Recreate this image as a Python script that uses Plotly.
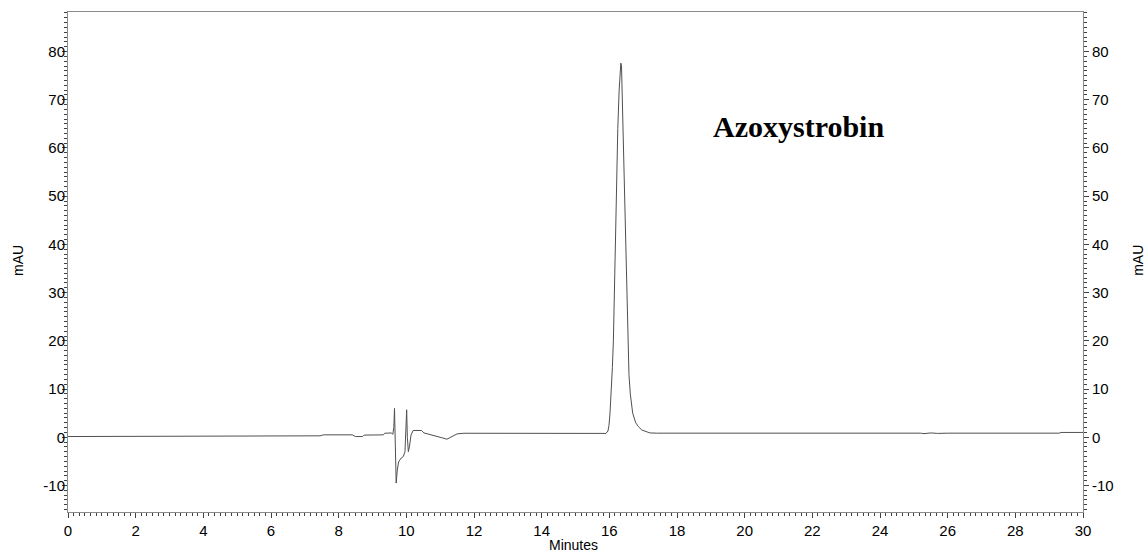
import plotly.graph_objects as go

# Retention time (min) and detector response (mAU) of the chromatogram trace
time_min = [
    0.00, 2.62, 2.70, 2.80, 7.45, 7.55, 7.90, 8.00, 8.10, 8.40, 8.50, 8.71,
    8.75, 9.32, 9.36, 9.56, 9.60, 9.63, 9.65, 9.67, 9.70, 9.73, 9.77, 9.85,
    9.91, 9.96, 9.98, 10.01, 10.03, 10.06, 10.09, 10.11, 10.14, 10.20, 10.45,
    10.52, 10.70, 10.90, 11.05, 11.20, 11.35, 11.50, 11.70, 12.00, 12.10,
    15.90, 15.96, 15.99, 16.02, 16.06, 16.09, 16.12, 16.15, 16.18, 16.21,
    16.25, 16.29, 16.32, 16.34, 16.36, 16.38, 16.41, 16.44, 16.47, 16.50,
    16.54, 16.58, 16.62, 16.69, 16.78, 16.86, 16.96, 17.06, 17.20, 17.40,
    18.55, 18.60, 18.70, 25.20, 25.30, 25.50, 25.70, 26.00, 29.30, 29.35,
    30.00,
]
signal_mau = [
    0.15, 0.15, 0.30, 0.25, 0.30, 0.50, 0.50, 0.45, 0.55, 0.50, 0.15, 0.15,
    0.45, 0.50, 0.83, 0.90, 0.60, 2.00, 6.00, 0.00, -9.50, -7.00, -5.10, -4.30,
    -4.00, -3.00, 2.00, 5.70, 0.00, -3.00, -2.00, -0.90, 0.50, 1.40, 1.40,
    0.90, 0.60, 0.30, -0.10, -0.40, 0.20, 0.70, 0.83, 0.83, 0.70,
    0.80, 1.30, 2.50, 5.00, 9.80, 14.50, 20.00, 30.00, 42.00, 54.00,
    64.00, 72.00, 76.50, 77.60, 77.00, 71.00, 62.00, 53.00, 43.00, 33.00,
    21.00, 13.00, 9.00, 5.00, 3.00, 2.20, 1.50, 1.20, 0.90, 0.85,
    0.85, 0.95, 0.85, 0.85, 0.75, 0.90, 0.80, 0.85, 0.85, 1.00,
    1.00,
]

x_range = [0, 30]
y_range = [-15.5, 88.2]
y_tick_values = [-10, 0, 10, 20, 30, 40, 50, 60, 70, 80]
y_tick_labels = ["-10", "0", "10", "20", "30", "40", "50", "60", "70", "80"]
peak_label = "Azoxystrobin"

axis_font = dict(family="Liberation Sans, Arial, sans-serif", size=15, color="#000000")
title_font = dict(family="Liberation Sans, Arial, sans-serif", size=14, color="#000000")
line_grey = "#8a8a8a"
tick_dark = "#404040"

fig = go.Figure()
fig.add_trace(go.Scatter(
    x=time_min, y=signal_mau, mode="lines",
    line=dict(color="#505050", width=1),
    hoverinfo="skip", showlegend=False,
))
# Same data bound to the right-hand axis so that axis gets drawn
fig.add_trace(go.Scatter(
    x=time_min, y=signal_mau, mode="lines", yaxis="y2",
    line=dict(color="#505050", width=1), opacity=0,
    hoverinfo="skip", showlegend=False,
))

minor_y = dict(dtick=1, tick0=0, ticks="outside", ticklen=3,
               tickcolor=tick_dark, tickwidth=1, showgrid=False)

fig.update_layout(
    width=1148, height=552,
    margin=dict(l=68, r=65, t=12, b=40),
    paper_bgcolor="white", plot_bgcolor="white",
    showlegend=False,
    xaxis=dict(
        range=x_range, dtick=2, tick0=0,
        showgrid=False, zeroline=False,
        showline=True, linecolor=line_grey, linewidth=1, mirror=True,
        ticks="outside", ticklen=5, tickcolor=tick_dark, tickwidth=1,
        minor=dict(dtick=1 / 6, tick0=0, ticks="outside", ticklen=3,
                   tickcolor=tick_dark, tickwidth=1, showgrid=False),
        tickfont=axis_font,
    ),
    yaxis=dict(
        range=y_range, tickmode="array",
        tickvals=y_tick_values, ticktext=y_tick_labels,
        showgrid=False, zeroline=False,
        showline=True, linecolor=line_grey, linewidth=1, mirror=True,
        ticks="outside", ticklen=5, tickcolor=tick_dark, tickwidth=1,
        minor=minor_y,
        tickfont=axis_font,
        ticklabelstandoff=-6,
    ),
    yaxis2=dict(
        range=y_range, tickmode="array",
        tickvals=y_tick_values, ticktext=y_tick_labels,
        overlaying="y", side="right",
        showgrid=False, zeroline=False,
        showline=True, linecolor=line_grey, linewidth=1,
        ticks="outside", ticklen=5, tickcolor=tick_dark, tickwidth=1,
        minor=minor_y,
        tickfont=axis_font,
    ),
)

# Axis titles and the compound label
fig.add_annotation(text="mAU", xref="paper", yref="paper", x=-0.0493, y=0.504,
                   textangle=-90, showarrow=False, font=title_font,
                   xanchor="center", yanchor="middle")
fig.add_annotation(text="mAU", xref="paper", yref="paper", x=1.054, y=0.504,
                   textangle=-90, showarrow=False, font=title_font,
                   xanchor="center", yanchor="middle")
fig.add_annotation(text="Minutes", xref="paper", yref="paper", x=0.4985, y=-0.066,
                   showarrow=False, font=title_font,
                   xanchor="center", yanchor="middle")
fig.add_annotation(text=peak_label, xref="x", yref="y", x=21.6, y=64.4,
                   showarrow=False,
                   font=dict(family="Liberation Serif, Times New Roman, serif",
                             size=30, color="#000000", weight="bold"),
                   xanchor="center", yanchor="middle")

fig.write_html("out.html")
